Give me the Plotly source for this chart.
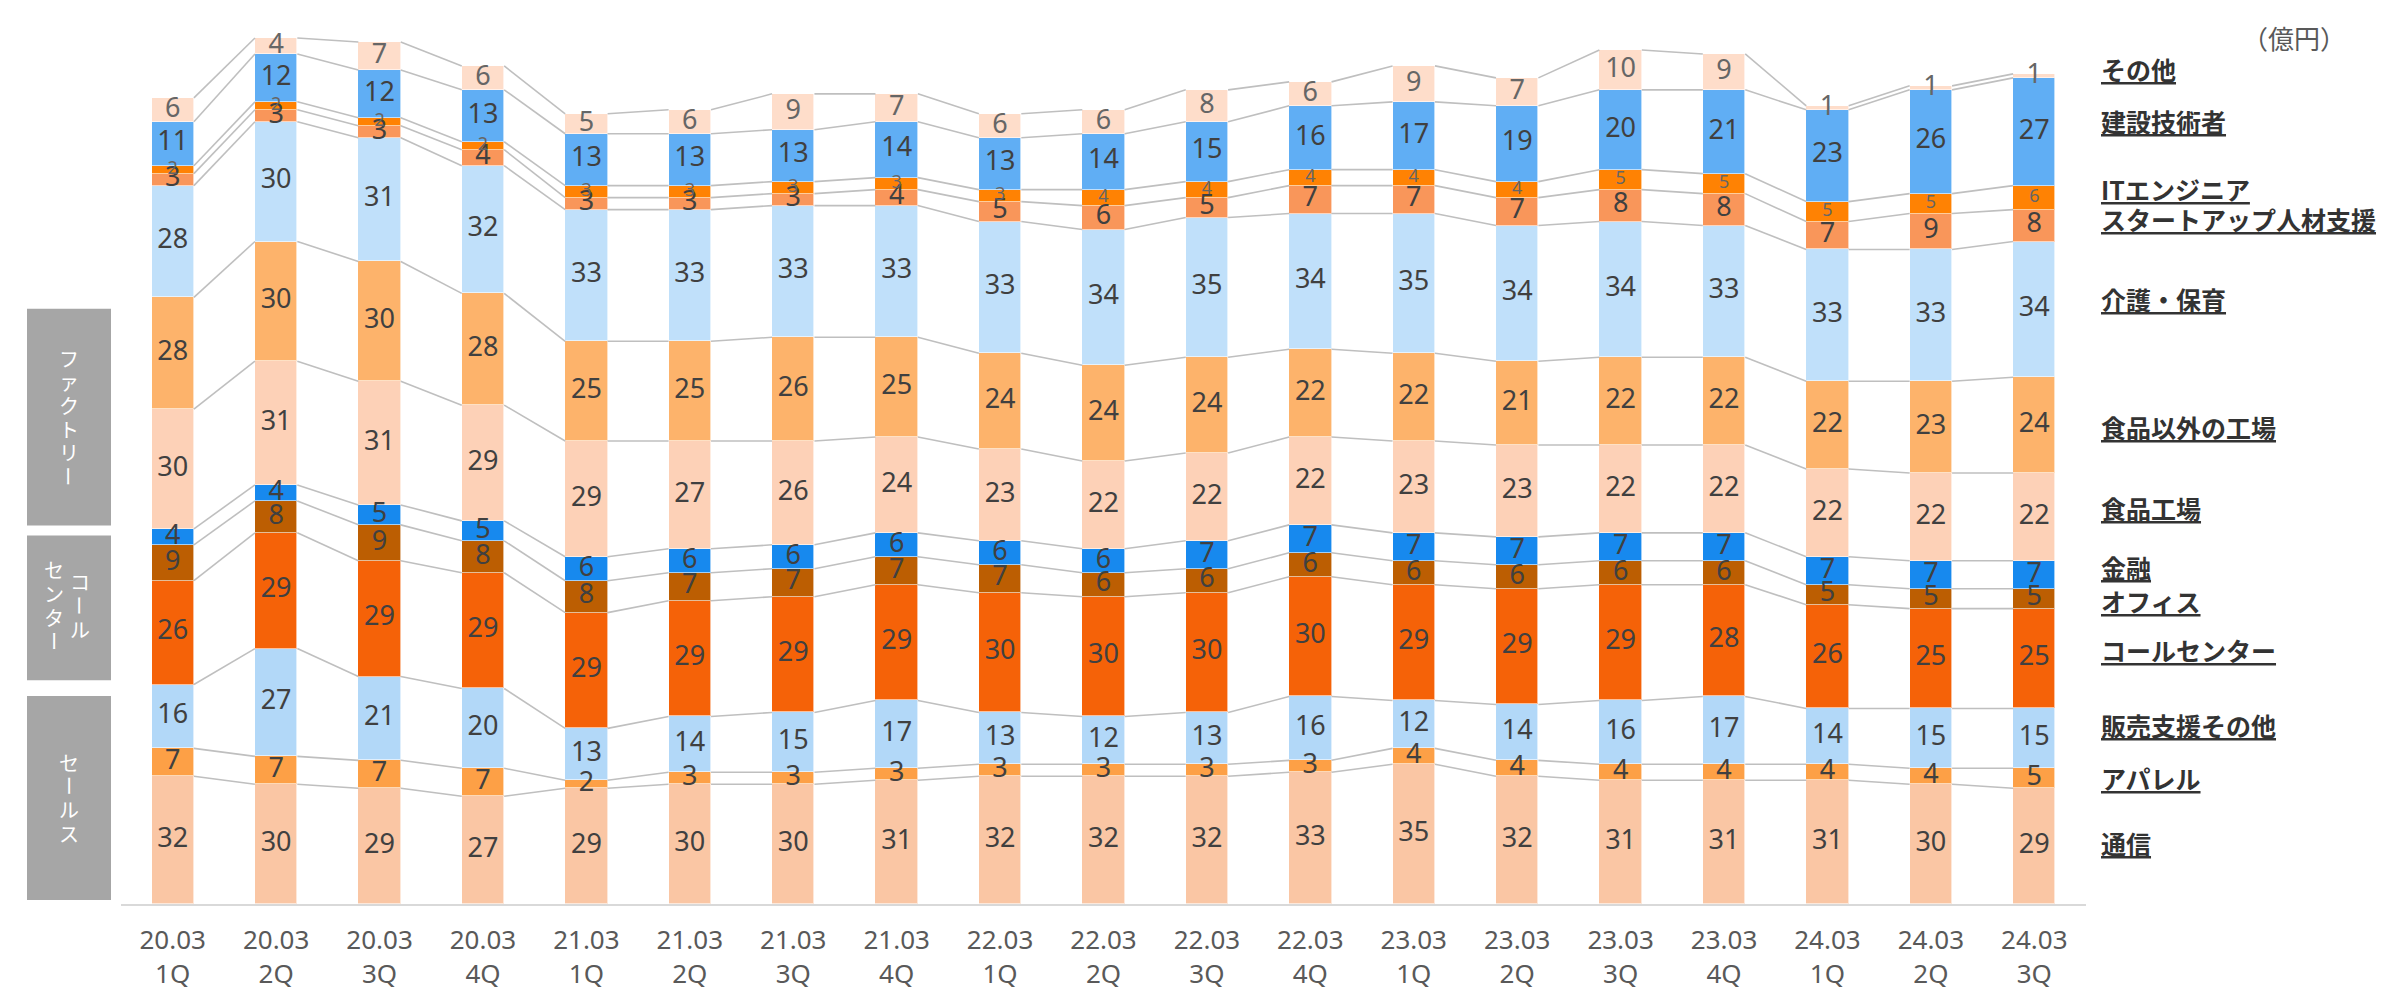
import plotly.graph_objects as go

# ---------------- data ----------------
categories = ["20.03<br>1Q", "20.03<br>2Q", "20.03<br>3Q", "20.03<br>4Q",
              "21.03<br>1Q", "21.03<br>2Q", "21.03<br>3Q", "21.03<br>4Q",
              "22.03<br>1Q", "22.03<br>2Q", "22.03<br>3Q", "22.03<br>4Q",
              "23.03<br>1Q", "23.03<br>2Q", "23.03<br>3Q", "23.03<br>4Q",
              "24.03<br>1Q", "24.03<br>2Q", "24.03<br>3Q"]

tsushin      = [32, 30, 29, 27, 29, 30, 30, 31, 32, 32, 32, 33, 35, 32, 31, 31, 31, 30, 29]   # 通信
apparel      = [7, 7, 7, 7, 2, 3, 3, 3, 3, 3, 3, 3, 4, 4, 4, 4, 4, 4, 5]                      # アパレル
hanbai_other = [16, 27, 21, 20, 13, 14, 15, 17, 13, 12, 13, 16, 12, 14, 16, 17, 14, 15, 15]   # 販売支援その他
callcenter   = [26, 29, 29, 29, 29, 29, 29, 29, 30, 30, 30, 30, 29, 29, 29, 28, 26, 25, 25]   # コールセンター
office       = [9, 8, 9, 8, 8, 7, 7, 7, 7, 6, 6, 6, 6, 6, 6, 6, 5, 5, 5]                      # オフィス
kinyu        = [4, 4, 5, 5, 6, 6, 6, 6, 6, 6, 7, 7, 7, 7, 7, 7, 7, 7, 7]                      # 金融
food_factory = [30, 31, 31, 29, 29, 27, 26, 24, 23, 22, 22, 22, 23, 23, 22, 22, 22, 22, 22]   # 食品工場
other_factory= [28, 30, 30, 28, 25, 25, 26, 25, 24, 24, 24, 22, 22, 21, 22, 22, 22, 23, 24]   # 食品以外の工場
kaigo        = [28, 30, 31, 32, 33, 33, 33, 33, 33, 34, 35, 34, 35, 34, 34, 33, 33, 33, 34]   # 介護・保育
startup      = [3, 3, 3, 4, 3, 3, 3, 4, 5, 6, 5, 7, 7, 7, 8, 8, 7, 9, 8]                      # スタートアップ人材支援
it_engineer  = [2, 2, 2, 2, 3, 3, 3, 3, 3, 4, 4, 4, 4, 4, 5, 5, 5, 5, 6]                      # ITエンジニア
kensetsu     = [11, 12, 12, 13, 13, 13, 13, 14, 13, 14, 15, 16, 17, 19, 20, 21, 23, 26, 27]   # 建設技術者
sonota       = [6, 4, 7, 6, 5, 6, 9, 7, 6, 6, 8, 6, 9, 7, 10, 9, 1, 1, 1]                     # その他

series_names = ["通信", "アパレル", "販売支援その他", "コールセンター", "オフィス", "金融",
                "食品工場", "食品以外の工場", "介護・保育", "スタートアップ人材支援",
                "ITエンジニア", "建設技術者", "その他"]
series_values = [tsushin, apparel, hanbai_other, callcenter, office, kinyu,
                 food_factory, other_factory, kaigo, startup, it_engineer, kensetsu, sonota]
series_colors = ["#FAC6A4", "#FDA046", "#B2D8F8", "#F56208", "#BC5E02", "#1789EE",
                 "#FDD1B7", "#FDB36B", "#C0E0FA", "#F9965A", "#FF8203", "#60AEF4", "#FEDDCA"]
label_colors = ["#404040"] * 10 + ["#666666", "#404040", "#666666"]
label_sizes = [27] * 10 + [18, 27, 27]

# ---------------- geometry helpers ----------------
W, H = 2386, 995
PL, PR, PT, PB = 113, 2078, 18, 909   # plot area in pixels
YMAX = 220
BAR_W = 0.41


def px2x(px):
    return (px - PL) / (PR - PL)


def py2y(py):
    return (PB - py) / (PB - PT)


n = len(categories)
xs = list(range(n))

fig = go.Figure()

# cumulative tops
cum_tops = []
bottoms = []
running = [0] * n
for vals in series_values:
    bottoms.append(running[:])
    running = [r + v for r, v in zip(running, vals)]
    cum_tops.append(running[:])

# series lines (connectors)
for tops in cum_tops:
    lx, ly = [], []
    for i in range(n - 1):
        lx += [i + BAR_W / 2, i + 1 - BAR_W / 2, None]
        ly += [tops[i], tops[i + 1], None]
    fig.add_trace(go.Scatter(x=lx, y=ly, mode="lines",
                             line=dict(color="#BFBFBF", width=1.6),
                             hoverinfo="skip", showlegend=False))

# bars
for name, vals, col in zip(series_names, series_values, series_colors):
    fig.add_trace(go.Bar(x=xs, y=vals, name=name, width=BAR_W,
                         marker=dict(color=col, line=dict(color="rgba(255,255,255,0.6)", width=1)),
                         showlegend=False))

# labels
for vals, bots, tc, ts in zip(series_values, bottoms, label_colors, label_sizes):
    fig.add_trace(go.Scatter(x=xs, y=[b + v / 2 for b, v in zip(bots, vals)],
                             mode="text", text=[str(v) for v in vals],
                             textposition="middle center",
                             textfont=dict(family="Noto Sans, sans-serif", size=ts, color=tc),
                             hoverinfo="skip", showlegend=False, cliponaxis=False))

annotations = []
# right-side category labels (underlined)
legend_pos = [("その他", 62), ("建設技術者", 114), ("ITエンジニア", 183),
              ("スタートアップ人材支援", 214), ("介護・保育", 295), ("食品以外の工場", 425),
              ("食品工場", 507), ("金融", 567), ("オフィス", 602), ("コールセンター", 651),
              ("販売支援その他", 727), ("アパレル", 781), ("通信", 847)]
for txt, py in legend_pos:
    annotations.append(dict(xref="paper", yref="paper", x=px2x(2091), y=py2y(py),
                            xanchor="left", yanchor="middle", showarrow=False,
                            text="<u>" + txt + "</u>",
                            font=dict(family="Noto Sans CJK JP", size=25, color="#333333", weight="bold")))

# unit label
annotations.append(dict(xref="paper", yref="paper", x=px2x(2340), y=py2y(30),
                        xanchor="right", yanchor="middle", showarrow=False,
                        text="（億円）",
                        font=dict(family="Noto Sans CJK JP", size=26, color="#595959")))

# left grey group boxes
shapes = []
boxes = [(19, 103, 305, 525), (19, 103, 535, 682), (19, 103, 698, 905)]
for x0, x1, y0, y1 in boxes:
    shapes.append(dict(type="rect", xref="paper", yref="paper",
                       x0=px2x(x0), x1=px2x(x1), y0=py2y(y0), y1=py2y(y1),
                       fillcolor="#A6A6A6", line=dict(width=0), layer="above"))


def vertical_text(text, cx, cy, pitch=24):
    k = len(text)
    top = cy - pitch * (k - 1) / 2
    for j, ch in enumerate(text):
        annotations.append(dict(xref="paper", yref="paper", x=px2x(cx), y=py2y(top + j * pitch),
                                xanchor="center", yanchor="middle", showarrow=False,
                                text=ch, textangle=90 if ch == "ー" else 0,
                                font=dict(family="Noto Sans CJK JP", size=20, color="#FFFFFF")))


vertical_text("ファクトリー", 61, 415)
vertical_text("コール", 72, 606)
vertical_text("センター", 46, 606)
vertical_text("セールス", 61, 801)

fig.update_layout(
    width=W, height=H,
    margin=dict(l=PL, r=W - PR, t=PT, b=H - PB, pad=0),
    barmode="stack", bargap=0,
    plot_bgcolor="white", paper_bgcolor="white",
    showlegend=False,
    annotations=annotations, shapes=shapes,
    xaxis=dict(range=[-0.5, n - 0.5], tickmode="array", tickvals=xs, ticktext=categories,
               showline=True, linecolor="#D9D9D9", linewidth=2, showgrid=False, zeroline=False,
               ticks="", ticklabelstandoff=12,
               tickfont=dict(family="Noto Sans, sans-serif", size=26, color="#595959")),
    yaxis=dict(range=[0, YMAX], visible=False, showgrid=False, zeroline=False),
)

fig.write_html("out.html")
